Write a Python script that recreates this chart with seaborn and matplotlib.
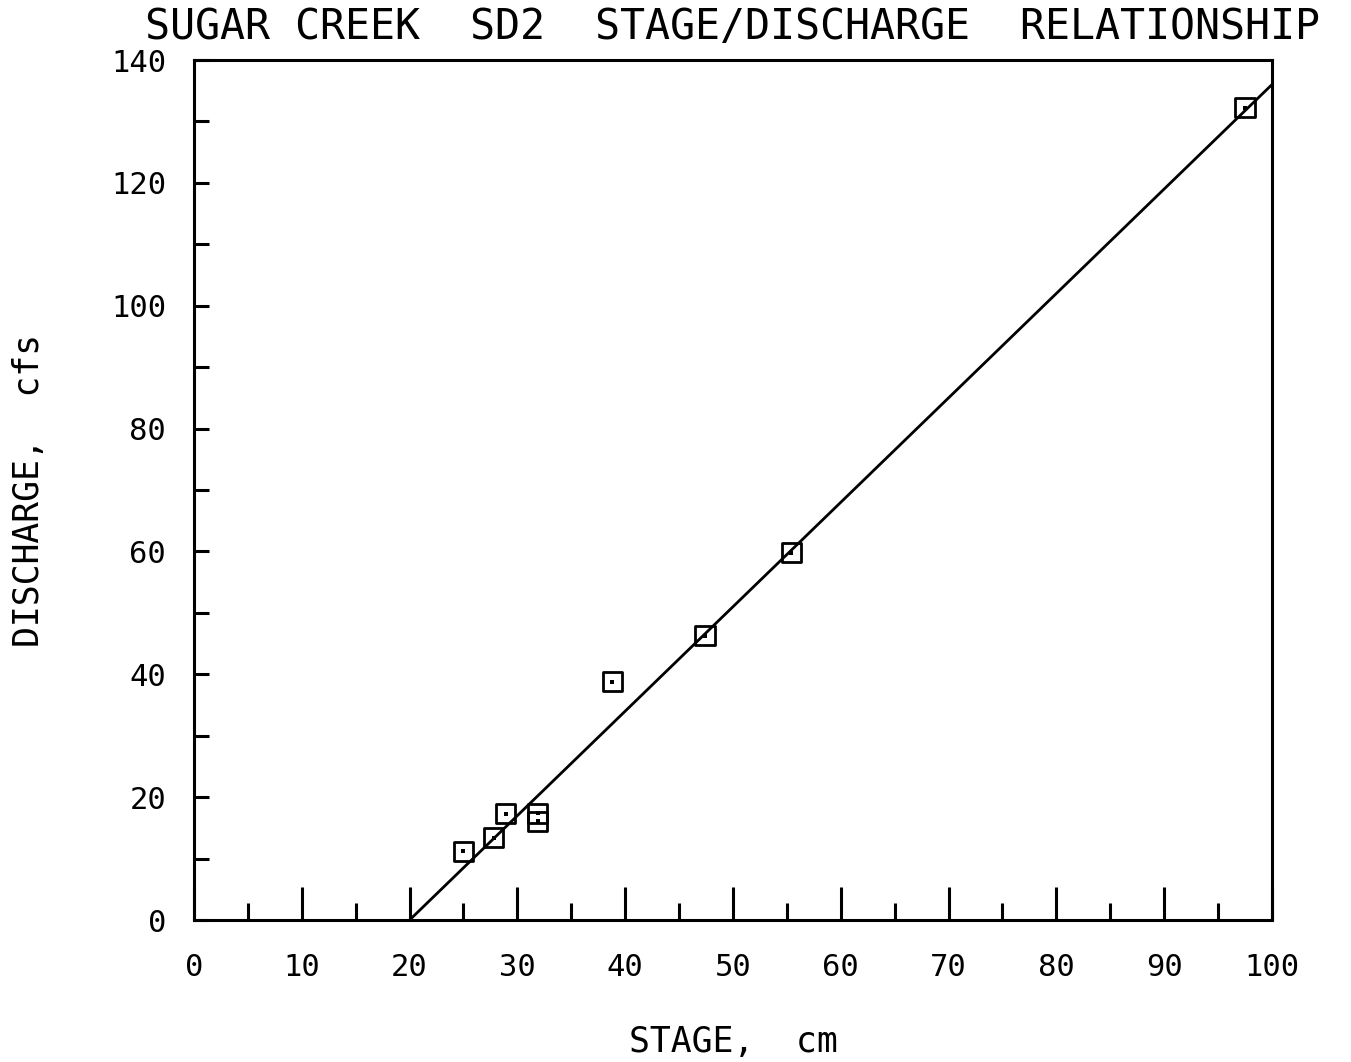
import numpy as np
import pandas as pd
import matplotlib
matplotlib.use("Agg")
import matplotlib.pyplot as plt
import seaborn as sns

stage = [25.0, 27.8, 28.9, 31.9, 31.9, 38.8, 47.4, 55.4, 97.5]
discharge = [11.2, 13.4, 17.3, 17.4, 16.1, 38.8, 46.3, 59.8, 132.2]

# rating line end points
line_stage = [20.0, 100.0]
line_discharge = [0.0, 136.0]

x_ticks = list(range(0, 101, 10))
y_ticks = list(range(0, 141, 20))

df = pd.DataFrame({"stage": stage, "discharge": discharge})
fit = pd.DataFrame({"stage": line_stage, "discharge": line_discharge})

sns.set_style("ticks")
plt.rcParams['font.family'] = ['DejaVu Sans Mono', 'DejaVu Sans']
plt.rcParams['text.color'] = 'black'
plt.rcParams['xtick.color'] = 'black'
plt.rcParams['ytick.color'] = 'black'
plt.rcParams['axes.labelcolor'] = 'black'

fig = plt.figure(figsize=(13.51, 10.62), dpi=100)
ax = fig.add_axes([0.1436, 0.1337, 0.7979, 0.8098])

sns.lineplot(x="stage", y="discharge", data=fit, color="black", linewidth=2, ax=ax)
sns.scatterplot(x="stage", y="discharge", data=df, marker="s", s=190,
                facecolor="none", edgecolor="black", linewidth=2, ax=ax)
sns.scatterplot(x="stage", y="discharge", data=df, marker="s", s=6,
                color="black", linewidth=0, ax=ax)

ax.set_xlim(0, 100)
ax.set_ylim(0, 140)
ax.set_xticks(x_ticks)
ax.set_xticks(list(range(5, 100, 10)), minor=True)
ax.set_yticks(y_ticks)
ax.set_yticks(list(range(10, 140, 20)), minor=True)

ax.tick_params(axis="x", which="major", direction="in", length=24, width=2.2,
               pad=24, labelsize=22)
ax.tick_params(axis="x", which="minor", direction="in", length=12, width=2.2)
ax.tick_params(axis="y", which="major", direction="in", length=11, width=2.2,
               pad=20, labelsize=22)
ax.tick_params(axis="y", which="minor", direction="in", length=11, width=2.2)

for sp in ax.spines.values():
    sp.set_visible(True)
    sp.set_linewidth(2.2)
    sp.set_color("black")

ax.set_xlabel("STAGE,  cm", fontsize=25)
ax.xaxis.set_label_coords(0.5, -0.122)
ax.set_ylabel("DISCHARGE,  cfs", fontsize=25)
ax.yaxis.set_label_coords(-0.137, 0.5)
ax.set_title("SUGAR CREEK  SD2  STAGE/DISCHARGE  RELATIONSHIP", fontsize=30,
             pad=0, y=1.024, va="baseline")

plt.savefig("out.png", dpi=100)
